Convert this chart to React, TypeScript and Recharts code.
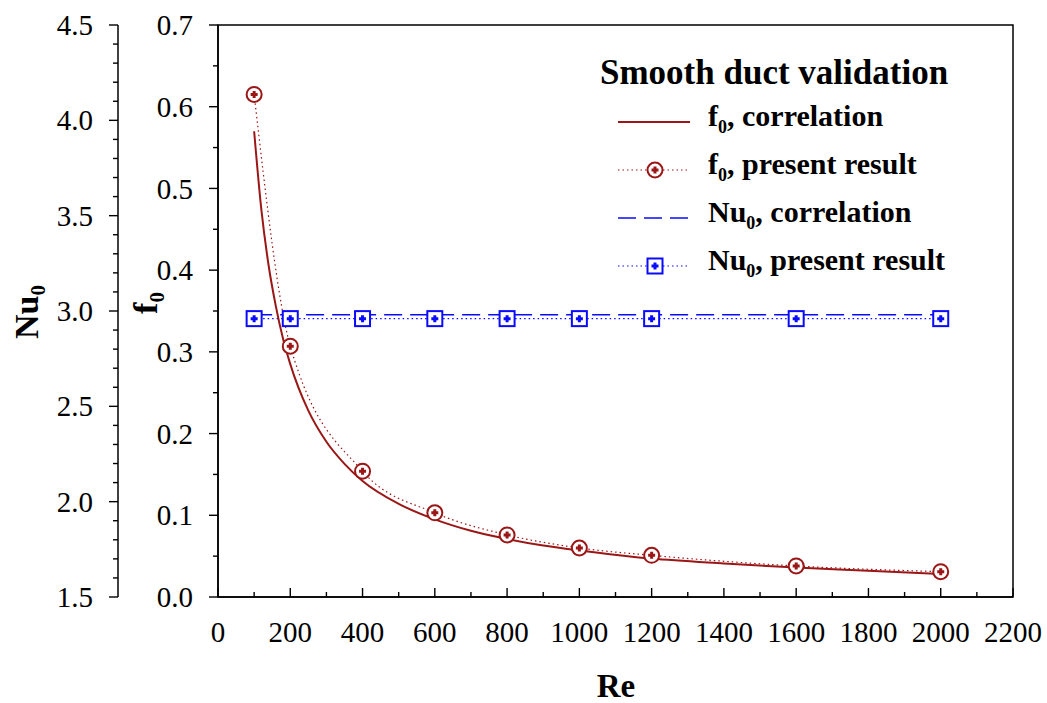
import { ComposedChart, Legend, Line, ReferenceArea, XAxis, YAxis } from "recharts";

const FONT = '"Liberation Serif", "Times New Roman", serif';
const RED = "#9b1616";
const BLUE = "#0a0aff";

// f0 correlation (solid line)
const reCorrelation = [100, 120, 140, 160, 180, 200, 250, 300, 350, 400, 500, 600, 700, 800, 900, 1000, 1200, 1400, 1600, 1800, 2000];
const fCorrelation = [0.57, 0.474, 0.406, 0.356, 0.316, 0.285, 0.228, 0.19, 0.163, 0.142, 0.114, 0.095, 0.081, 0.071, 0.063, 0.057, 0.047, 0.041, 0.036, 0.032, 0.028];

// present results (markers)
const rePresent = [100, 200, 400, 600, 800, 1000, 1200, 1600, 2000];
const fPresent = [0.615, 0.307, 0.154, 0.103, 0.076, 0.06, 0.051, 0.038, 0.031];
const nuPresent = [2.96, 2.96, 2.96, 2.96, 2.96, 2.96, 2.96, 2.96, 2.96];

// Nu0 correlation (dashed)
const reNuCorrelation = [100, 2000];
const nuCorrelation = [2.98, 2.98];

const reTicks = [0, 200, 400, 600, 800, 1000, 1200, 1400, 1600, 1800, 2000, 2200];
const fTicks = [0, 0.1, 0.2, 0.3, 0.4, 0.5, 0.6, 0.7];
const nuTicks = [1.5, 2.0, 2.5, 3.0, 3.5, 4.0, 4.5];

const fCorrData = reCorrelation.map((re, i) => ({ re, f: fCorrelation[i] }));
const fPresentData = rePresent.map((re, i) => ({ re, f: fPresent[i] }));
const nuCorrData = reNuCorrelation.map((re, i) => ({ re, nu: nuCorrelation[i] }));
const nuPresentData = rePresent.map((re, i) => ({ re, nu: nuPresent[i] }));

function withMinor(major: number[], parts: number) {
  const out: number[] = [];
  major.forEach((v, i) => {
    out.push(v);
    if (i < major.length - 1) {
      const step = (major[i + 1] - v) / parts;
      for (let k = 1; k < parts; k++) out.push(Number((v + k * step).toFixed(4)));
    }
  });
  return out;
}

const isMajor = (majors: number[], v: number) => majors.some((m) => Math.abs(m - v) < 1e-6);

function YTick(props: any, majors: number[]) {
  const { x, y, payload } = props;
  const major = isMajor(majors, payload.value);
  return (
    <g>
      <line x1={x} x2={x - (major ? 9 : 5)} y1={y} y2={y} stroke="#000" strokeWidth={1.4} />
      {major && (
        <text x={x - 25} y={y} dy="0.35em" textAnchor="end" fontSize={29} fontFamily={FONT} fill="#000">
          {Number(payload.value).toFixed(1)}
        </text>
      )}
    </g>
  );
}

function XTick(props: any) {
  const { x, y, payload } = props;
  const major = isMajor(reTicks, payload.value);
  return (
    <g>
      <line x1={x} x2={x} y1={y} y2={y - (major ? 9 : 5)} stroke="#000" strokeWidth={1.4} />
      {major && (
        <text x={x} y={y + 45} textAnchor="middle" fontSize={29} fontFamily={FONT} fill="#000">
          {payload.value}
        </text>
      )}
    </g>
  );
}

function CircleDot(props: any) {
  const { cx, cy, index } = props;
  if (cx == null || cy == null) return <g key={index} />;
  return (
    <g key={index}>
      <circle cx={cx} cy={cy} r={7.5} fill="#fff" stroke={RED} strokeWidth={2} />
      <path d={`M${cx - 3.5},${cy}h7M${cx},${cy - 3.5}v7`} stroke={RED} strokeWidth={3} />
    </g>
  );
}

function SquareDot(props: any) {
  const { cx, cy, index } = props;
  if (cx == null || cy == null) return <g key={index} />;
  return (
    <g key={index}>
      <rect x={cx - 7.5} y={cy - 7.5} width={15} height={15} fill="#fff" stroke={BLUE} strokeWidth={2} />
      <path d={`M${cx - 3.5},${cy}h7M${cx},${cy - 3.5}v7`} stroke={BLUE} strokeWidth={3} />
    </g>
  );
}

function LegendBox() {
  const rows = [
    { kind: "f-line", name: "f", label: ", correlation" },
    { kind: "f-dot", name: "f", label: ", present result" },
    { kind: "nu-line", name: "Nu", label: ", correlation" },
    { kind: "nu-dot", name: "Nu", label: ", present result" },
  ];
  const sample = (kind: string) => {
    switch (kind) {
      case "f-line":
        return <line x1={0} x2={72} y1={12} y2={12} stroke={RED} strokeWidth={2} />;
      case "f-dot":
        return (
          <g>
            <line x1={0} x2={72} y1={12} y2={12} stroke={RED} strokeWidth={1.2} strokeDasharray="1.5 3" />
            <CircleDot cx={37} cy={12} index={0} />
          </g>
        );
      case "nu-line":
        return <line x1={0} x2={72} y1={12} y2={12} stroke={BLUE} strokeWidth={1.6} strokeDasharray="18 8" />;
      default:
        return (
          <g>
            <line x1={0} x2={72} y1={12} y2={12} stroke={BLUE} strokeWidth={1.2} strokeDasharray="1.5 3" />
            <SquareDot cx={37} cy={12} index={0} />
          </g>
        );
    }
  };
  return (
    <div style={{ fontFamily: FONT, fontWeight: "bold", color: "#000", width: 420 }}>
      <div style={{ fontSize: 35, height: 46, lineHeight: "42px", marginLeft: 2, whiteSpace: "nowrap" }}>
        Smooth duct validation
      </div>
      {rows.map((r) => (
        <div key={r.kind} style={{ display: "flex", alignItems: "center", height: 48 }}>
          <svg width={74} height={24} style={{ marginLeft: 20, overflow: "visible" }}>
            {sample(r.kind)}
          </svg>
          <span style={{ marginLeft: 16, fontSize: 30, lineHeight: "48px", whiteSpace: "nowrap" }}>
            {r.name}
            <sub style={{ fontSize: "0.6em", verticalAlign: "-0.4em" }}>0</sub>
            {r.label}
          </span>
        </div>
      ))}
    </div>
  );
}

export default function App() {
  return (
    <div style={{ position: "absolute", left: 0, top: 0, fontFamily: FONT }}>
      <ComposedChart width={1047} height={703} margin={{ top: 25, right: 34, left: 0, bottom: 0 }}>
        <XAxis
          dataKey="re"
          type="number"
          domain={[0, 2200]}
          ticks={withMinor(reTicks, 2)}
          interval={0}
          height={106}
          tickSize={0}
          tickMargin={0}
          tick={XTick}
          axisLine={{ stroke: "#000", strokeWidth: 1.5 }}
          label={() => (
            <text x={616} y={697} textAnchor="middle" fontSize={33} fontWeight="bold" fontFamily={FONT} fill="#000">
              Re
            </text>
          )}
        />
        <YAxis
          yAxisId="f"
          type="number"
          domain={[0, 0.7]}
          ticks={withMinor(fTicks, 2)}
          interval={0}
          width={100}
          tickSize={0}
          tickMargin={0}
          tick={(p: any) => YTick(p, fTicks)}
          axisLine={{ stroke: "#000", strokeWidth: 1.5 }}
          label={() => (
            <text transform="translate(157,303) rotate(-90)" textAnchor="middle" fontSize={34} fontWeight="bold" fontFamily={FONT} fill="#000">
              f<tspan fontSize={21} dy={7}>0</tspan>
            </text>
          )}
        />
        <YAxis
          yAxisId="nu"
          type="number"
          domain={[1.5, 4.5]}
          ticks={withMinor(nuTicks, 5)}
          interval={0}
          width={118}
          tickSize={0}
          tickMargin={0}
          tick={(p: any) => YTick(p, nuTicks)}
          axisLine={{ stroke: "#000", strokeWidth: 1.5 }}
          label={() => (
            <text transform="translate(38,312) rotate(-90)" textAnchor="middle" fontSize={34} fontWeight="bold" fontFamily={FONT} fill="#000">
              Nu<tspan fontSize={21} dy={7}>0</tspan>
            </text>
          )}
        />
        <ReferenceArea yAxisId="f" x1={0} x2={2200} y1={0} y2={0.7} fill="none" stroke="#000" strokeWidth={1.5} />
        <Line
          yAxisId="nu"
          data={nuCorrData}
          dataKey="nu"
          type="linear"
          stroke={BLUE}
          strokeWidth={1.6}
          strokeDasharray="18 8"
          dot={false}
          isAnimationActive={false}
        />
        <Line
          yAxisId="nu"
          data={nuPresentData}
          dataKey="nu"
          type="linear"
          stroke={BLUE}
          strokeWidth={1.2}
          strokeDasharray="1.5 3"
          dot={SquareDot}
          isAnimationActive={false}
        />
        <Line
          yAxisId="f"
          data={fCorrData}
          dataKey="f"
          type="monotone"
          stroke={RED}
          strokeWidth={2}
          dot={false}
          isAnimationActive={false}
        />
        <Line
          yAxisId="f"
          data={fPresentData}
          dataKey="f"
          type="monotone"
          stroke={RED}
          strokeWidth={1.2}
          strokeDasharray="1.5 3"
          dot={CircleDot}
          isAnimationActive={false}
        />
        <Legend
          layout="horizontal"
          verticalAlign="middle"
          align="center"
          wrapperStyle={{ left: 598, top: 52, width: 420, height: 240 }}
          content={() => <LegendBox />}
        />
      </ComposedChart>
    </div>
  );
}
